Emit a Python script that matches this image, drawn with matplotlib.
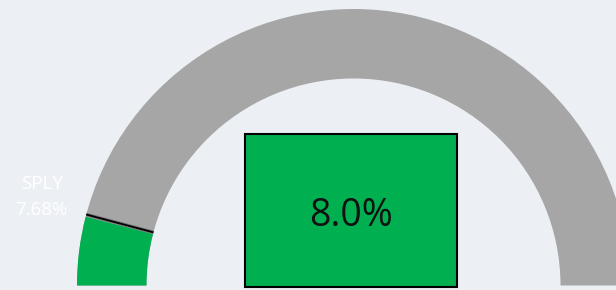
import matplotlib
matplotlib.use("Agg")
import matplotlib.pyplot as plt
from matplotlib.patches import Wedge, Rectangle
import numpy as np

# data
value = 8.0
sply = 7.68
gauge_min = 0.0
gauge_max = 100.0
value_label = "8.0%"
sply_title = "SPLY"
sply_label = "7.68%"

bg = "#ECF0F5"
green = "#00B050"
gray = "#A6A6A6"

W, H = 616, 290
fig = plt.figure(figsize=(W / 100, H / 100), dpi=100, facecolor=bg)
ax = fig.add_axes([0, 0, 1, 1])
ax.set_xlim(0, W)
ax.set_ylim(0, H)
ax.set_facecolor(bg)
ax.axis("off")

cx, cy = 353.5, H - 285.5
R_out, R_in = 276.5, 207.0
width = R_out - R_in

def angle(v):
    return 180.0 - 180.0 * (v - gauge_min) / (gauge_max - gauge_min)

ax.add_patch(Wedge((cx, cy), R_out, 0, 180, width=width, facecolor=gray, edgecolor="none"))
ax.add_patch(Wedge((cx, cy), R_out, angle(value), 180, width=width, facecolor=green, edgecolor="none"))

# SPLY marker (drawn just beyond the filled edge, as in the original rendering)
t = np.deg2rad(angle(sply) - 1.05)
ax.plot([cx + R_in * np.cos(t), cx + R_out * np.cos(t)],
        [cy + R_in * np.sin(t), cy + R_out * np.sin(t)],
        color="#777777", lw=2.6, solid_capstyle="butt")
ax.plot([cx + R_in * np.cos(t), cx + R_out * np.cos(t)],
        [cy + R_in * np.sin(t), cy + R_out * np.sin(t)],
        color="black", lw=1.3, solid_capstyle="butt")

# center box
ax.add_patch(Rectangle((245, H - 287), 457 - 245, 287 - 134, facecolor=green,
                       edgecolor="black", lw=1.5))
ax.text(351, H - 216, value_label, ha="center", va="center", fontsize=27,
        family=["Open Sans", "DejaVu Sans"], color="#111111")

ax.text(41.5, H - 184, sply_title, ha="center", va="center", fontsize=13.5,
        family=["Open Sans", "DejaVu Sans"], color="white")
ax.text(41.5, H - 210, sply_label, ha="center", va="center", fontsize=13.5,
        family=["Open Sans", "DejaVu Sans"], color="white")

fig.savefig("out.png", dpi=100, facecolor=bg)
